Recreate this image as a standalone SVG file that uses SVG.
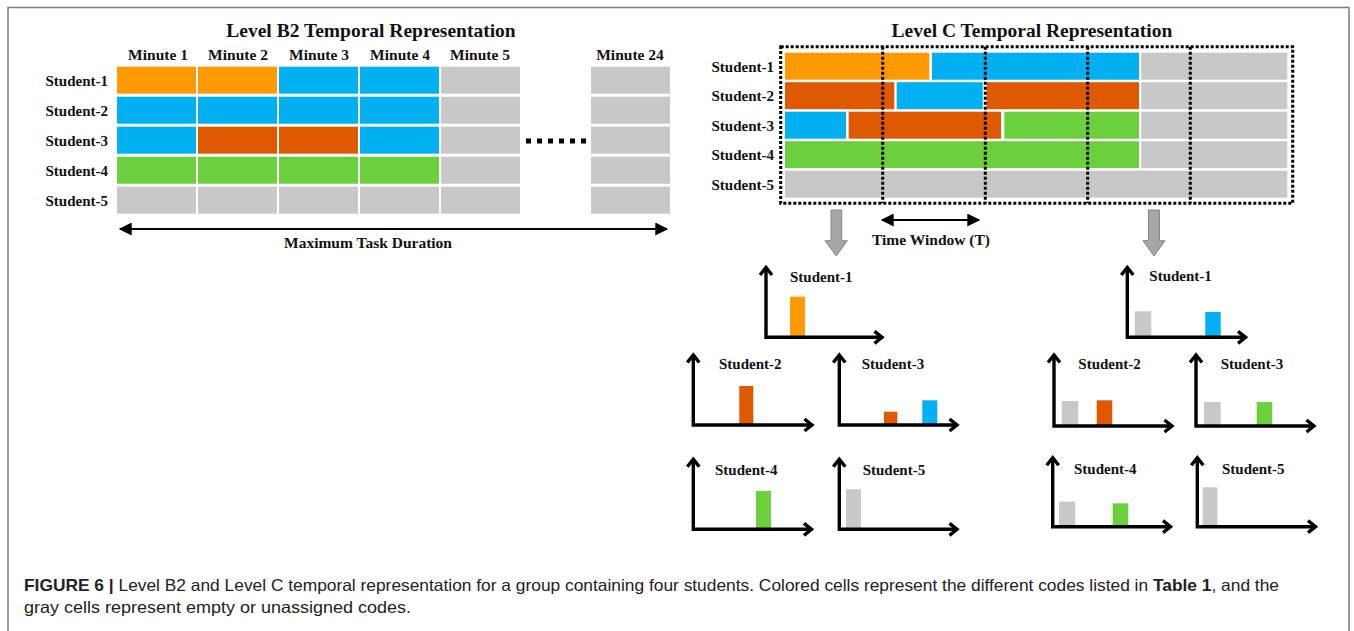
<svg xmlns="http://www.w3.org/2000/svg" width="1354" height="631" viewBox="0 0 1354 631">
<defs>
<style>
.t{font-family:"Liberation Serif","Times New Roman",serif;font-weight:bold;fill:#111}
.title{font-size:19.5px;text-anchor:middle}
.min{font-size:15.5px;text-anchor:middle}
.lab{font-size:15px;text-anchor:end}
.cl{font-size:15px}
.O{fill:#ff9a00}.B{fill:#00b0f0}.R{fill:#df5900}.G{fill:#6ccf3e}.Y{fill:#c8c8c8}
.ax{fill:none;stroke:#000;stroke-width:3.4;stroke-linecap:butt;stroke-linejoin:miter}
.dot{fill:none;stroke:#000;stroke-width:3;stroke-dasharray:3 2}
.cap{font-family:"Liberation Sans",Arial,sans-serif;font-size:16.5px;fill:#222}
.bd{font-weight:bold}
.blk{fill:#a6a6a6;stroke:#858585;stroke-width:1}
</style>
<marker id="ah" viewBox="0 0 10 10" refX="9" refY="5" markerWidth="8" markerHeight="6.5" orient="auto-start-reverse" markerUnits="strokeWidth">
<path d="M0,0 L10,5 L0,10 Z" fill="#000"/>
</marker>
</defs>
<rect x="0" y="0" width="1354" height="631" fill="#fff"/>
<rect x="8" y="7.5" width="1341" height="660" fill="none" stroke="#7a7a7a" stroke-width="1.5"/>

<g id="levelB2">
<text class="t title" x="371" y="37">Level B2 Temporal Representation</text>
<text class="t min" x="158" y="60">Minute 1</text>
<text class="t min" x="238" y="60">Minute 2</text>
<text class="t min" x="319" y="60">Minute 3</text>
<text class="t min" x="400" y="60">Minute 4</text>
<text class="t min" x="480" y="60">Minute 5</text>
<text class="t min" x="630" y="60">Minute 24</text>
<text class="t lab" x="108" y="86">Student-1</text>
<text class="t lab" x="108" y="116">Student-2</text>
<text class="t lab" x="108" y="146">Student-3</text>
<text class="t lab" x="108" y="176">Student-4</text>
<text class="t lab" x="108" y="206">Student-5</text>
<g id="b2cells">
<rect class="O" x="117" y="66.7" width="79" height="27"/><rect class="O" x="198" y="66.7" width="79" height="27"/><rect class="B" x="279" y="66.7" width="79" height="27"/><rect class="B" x="360" y="66.7" width="79" height="27"/><rect class="Y" x="441" y="66.7" width="79" height="27"/><rect class="Y" x="591" y="66.7" width="79" height="27"/>
<rect class="B" x="117" y="96.7" width="79" height="27"/><rect class="B" x="198" y="96.7" width="79" height="27"/><rect class="B" x="279" y="96.7" width="79" height="27"/><rect class="B" x="360" y="96.7" width="79" height="27"/><rect class="Y" x="441" y="96.7" width="79" height="27"/><rect class="Y" x="591" y="96.7" width="79" height="27"/>
<rect class="B" x="117" y="126.7" width="79" height="27"/><rect class="R" x="198" y="126.7" width="79" height="27"/><rect class="R" x="279" y="126.7" width="79" height="27"/><rect class="B" x="360" y="126.7" width="79" height="27"/><rect class="Y" x="441" y="126.7" width="79" height="27"/><rect class="Y" x="591" y="126.7" width="79" height="27"/>
<rect class="G" x="117" y="156.7" width="79" height="27"/><rect class="G" x="198" y="156.7" width="79" height="27"/><rect class="G" x="279" y="156.7" width="79" height="27"/><rect class="G" x="360" y="156.7" width="79" height="27"/><rect class="Y" x="441" y="156.7" width="79" height="27"/><rect class="Y" x="591" y="156.7" width="79" height="27"/>
<rect class="Y" x="117" y="186.7" width="79" height="27"/><rect class="Y" x="198" y="186.7" width="79" height="27"/><rect class="Y" x="279" y="186.7" width="79" height="27"/><rect class="Y" x="360" y="186.7" width="79" height="27"/><rect class="Y" x="441" y="186.7" width="79" height="27"/><rect class="Y" x="591" y="186.7" width="79" height="27"/>
</g>
<g id="ellipsis" fill="#000">
<rect x="526" y="138.5" width="5" height="5"/><rect x="537" y="138.5" width="5" height="5"/><rect x="548" y="138.5" width="5" height="5"/><rect x="559" y="138.5" width="5" height="5"/><rect x="570" y="138.5" width="5" height="5"/><rect x="581" y="138.5" width="5" height="5"/>
</g>
<text class="t min" x="368" y="248">Maximum Task Duration</text>
</g>

<g id="levelC">
<text class="t title" x="1032" y="37">Level C Temporal Representation</text>
<text class="t lab" x="774" y="71.5">Student-1</text>
<text class="t lab" x="774" y="101">Student-2</text>
<text class="t lab" x="774" y="130.5">Student-3</text>
<text class="t lab" x="774" y="160">Student-4</text>
<text class="t lab" x="774" y="189.5">Student-5</text>
<g id="ccells">
<rect class="O" x="785" y="52.7" width="144.3" height="27"/><rect class="B" x="932" y="52.7" width="207" height="27"/><rect class="Y" x="1141.3" y="52.7" width="146" height="27"/>
<rect class="R" x="785" y="82.2" width="109.3" height="27"/><rect class="B" x="896.7" y="82.2" width="86" height="27"/><rect class="R" x="986.7" y="82.2" width="152.3" height="27"/><rect class="Y" x="1141.3" y="82.2" width="146" height="27"/>
<rect class="B" x="785" y="111.7" width="61" height="27"/><rect class="R" x="848.7" y="111.7" width="152.3" height="27"/><rect class="G" x="1004.3" y="111.7" width="134.7" height="27"/><rect class="Y" x="1141.3" y="111.7" width="146" height="27"/>
<rect class="G" x="785" y="141.2" width="354" height="27"/><rect class="Y" x="1141.3" y="141.2" width="146" height="27"/>
<rect class="Y" x="785" y="170.7" width="502.3" height="27"/>
</g>
<g id="windows">
<rect class="dot" x="780.7" y="46.7" width="512" height="156.6"/>
<line class="dot" x1="882.7" y1="46.7" x2="882.7" y2="203.3"/>
<line class="dot" x1="985.3" y1="46.7" x2="985.3" y2="203.3"/>
<line class="dot" x1="1087.7" y1="46.7" x2="1087.7" y2="203.3"/>
<line class="dot" x1="1190.3" y1="46.7" x2="1190.3" y2="203.3"/>
</g>
<text class="t min" x="931" y="245">Time Window (T)</text>
</g>

<g id="connectors">
<line x1="120" y1="229" x2="667" y2="229" stroke="#000" stroke-width="2" marker-start="url(#ah)" marker-end="url(#ah)"/>
<line x1="882" y1="220" x2="979" y2="220" stroke="#000" stroke-width="2" marker-start="url(#ah)" marker-end="url(#ah)"/>
<path class="blk" d="M831,210 H841.7 V240.7 H847.3 L836.3,256 L825,240.7 H831 Z"/>
<path class="blk" d="M1148.5,210 H1159.5 V240.7 H1165 L1154,256 L1143,240.7 H1148.5 Z"/>
</g>

<g id="chartL1">
<rect class="O" x="790" y="296.7" width="15" height="40.6"/>
<path class="ax" d="M766,267.5 V337.3 H882"/>
<path class="ax" d="M760,275 L766,267.5 L772,275"/><path class="ax" d="M874.5,331.3 L882,337.3 L874.5,343.3"/>
<text class="t cl" x="790" y="282">Student-1</text>
</g>
<g id="chartL2">
<rect class="R" x="739.3" y="386" width="14" height="39"/>
<path class="ax" d="M693.3,355 V425 H812"/>
<path class="ax" d="M687.3,362.5 L693.3,355 L699.3,362.5"/><path class="ax" d="M804.5,419 L812,425 L804.5,431"/>
<text class="t cl" x="719" y="368.5">Student-2</text>
</g>
<g id="chartL3">
<rect class="R" x="884" y="411.7" width="13.3" height="13.3"/>
<rect class="B" x="922.3" y="400.3" width="15" height="24.7"/>
<path class="ax" d="M839.3,355 V425 H957"/>
<path class="ax" d="M833.3,362.5 L839.3,355 L845.3,362.5"/><path class="ax" d="M949.5,419 L957,425 L949.5,431"/>
<text class="t cl" x="861.7" y="369">Student-3</text>
</g>
<g id="chartL4">
<rect class="G" x="756" y="491" width="15" height="38.3"/>
<path class="ax" d="M693.3,459.3 V529.3 H811.5"/>
<path class="ax" d="M687.3,466.8 L693.3,459.3 L699.3,466.8"/><path class="ax" d="M804,523.3 L811.5,529.3 L804,535.3"/>
<text class="t cl" x="715" y="475">Student-4</text>
</g>
<g id="chartL5">
<rect class="Y" x="846" y="489.3" width="15" height="40"/>
<path class="ax" d="M839.3,459.3 V529.3 H957"/>
<path class="ax" d="M833.3,466.8 L839.3,459.3 L845.3,466.8"/><path class="ax" d="M949.5,523.3 L957,529.3 L949.5,535.3"/>
<text class="t cl" x="862.7" y="475">Student-5</text>
</g>

<g id="chartR1">
<rect class="Y" x="1134.7" y="311.3" width="16.6" height="26"/>
<rect class="B" x="1205.3" y="312" width="15.4" height="25.3"/>
<path class="ax" d="M1127.3,267.5 V337.3 H1245.5"/>
<path class="ax" d="M1121.3,275 L1127.3,267.5 L1133.3,275"/><path class="ax" d="M1238,331.3 L1245.5,337.3 L1238,343.3"/>
<text class="t cl" x="1149.3" y="280.5">Student-1</text>
</g>
<g id="chartR2">
<rect class="Y" x="1061.7" y="401" width="16.6" height="25"/>
<rect class="R" x="1096.7" y="400.3" width="15.6" height="25.7"/>
<path class="ax" d="M1054,355 V426 H1172"/>
<path class="ax" d="M1048,362.5 L1054,355 L1060,362.5"/><path class="ax" d="M1164.5,420 L1172,426 L1164.5,432"/>
<text class="t cl" x="1078.3" y="368.5">Student-2</text>
</g>
<g id="chartR3">
<rect class="Y" x="1204" y="402" width="16.7" height="24"/>
<rect class="G" x="1256.7" y="402" width="15.6" height="24"/>
<path class="ax" d="M1196,355 V426 H1314"/>
<path class="ax" d="M1190,362.5 L1196,355 L1202,362.5"/><path class="ax" d="M1306.5,420 L1314,426 L1306.5,432"/>
<text class="t cl" x="1220.7" y="368.5">Student-3</text>
</g>
<g id="chartR4">
<rect class="Y" x="1059" y="501.7" width="16.3" height="25"/>
<rect class="G" x="1112.7" y="503.3" width="15.6" height="23.4"/>
<path class="ax" d="M1052.7,457.7 V526.7 H1170.5"/>
<path class="ax" d="M1046.7,465.2 L1052.7,457.7 L1058.7,465.2"/><path class="ax" d="M1163,520.7 L1170.5,526.7 L1163,532.7"/>
<text class="t cl" x="1074" y="473.5">Student-4</text>
</g>
<g id="chartR5">
<rect class="Y" x="1202.7" y="487.3" width="14.6" height="39.4"/>
<path class="ax" d="M1197.3,457.7 V526.7 H1315.5"/>
<path class="ax" d="M1191.3,465.2 L1197.3,457.7 L1203.3,465.2"/><path class="ax" d="M1308,520.7 L1315.5,526.7 L1308,532.7"/>
<text class="t cl" x="1222" y="473.5">Student-5</text>
</g>

<g id="caption">
<text class="cap" x="24" y="591" textLength="1255" lengthAdjust="spacingAndGlyphs"><tspan class="bd">FIGURE 6 |</tspan> Level B2 and Level C temporal representation for a group containing four students. Colored cells represent the different codes listed in <tspan class="bd">Table 1</tspan>, and the</text>
<text class="cap" x="24" y="613" textLength="387" lengthAdjust="spacingAndGlyphs">gray cells represent empty or unassigned codes.</text>
</g>
</svg>
